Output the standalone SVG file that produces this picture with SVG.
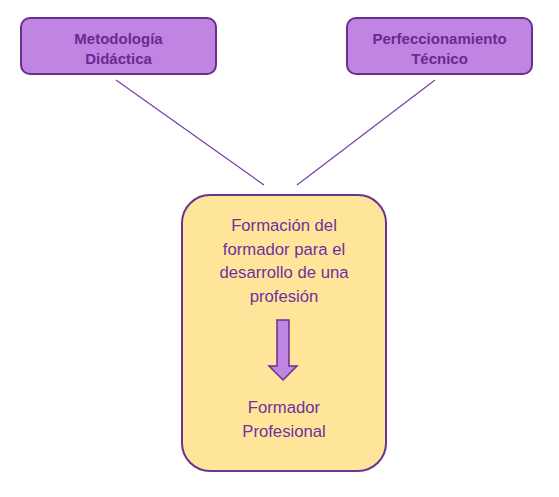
<svg xmlns="http://www.w3.org/2000/svg" width="559" height="497" viewBox="0 0 559 497">
<style>
.top{fill:#C084E2;stroke:#6B2E8E;stroke-width:2}
.tt{font-family:"Liberation Sans",Arial,sans-serif;font-weight:bold;font-size:15px;fill:#6B2A93;text-anchor:middle}
.mt{font-family:"Liberation Sans",Arial,sans-serif;font-size:16.7px;fill:#7030A0;text-anchor:middle}
.ln{stroke:#7A3FA3;stroke-width:1.2;fill:none}
</style>
<rect width="559" height="497" fill="#FFFFFF"/>
<g id="connectors">
<line class="ln" x1="116" y1="80" x2="264" y2="185"/>
<line class="ln" x1="435" y1="80" x2="297" y2="185"/>
</g>
<g id="metodologia">
<rect class="top" x="21" y="18" width="195" height="56" rx="9"/>
<text class="tt" x="118.5" y="43.5">Metodología</text>
<text class="tt" x="118.5" y="63.5">Didáctica</text>
</g>
<g id="perfeccionamiento">
<rect class="top" x="347" y="18" width="185" height="56" rx="9"/>
<text class="tt" x="439.5" y="43.5">Perfeccionamiento</text>
<text class="tt" x="439.5" y="63.5">Técnico</text>
</g>
<g id="formacion">
<rect x="182" y="195" width="204" height="276" rx="28" fill="#FFE599" stroke="#6B3491" stroke-width="2"/>
<text class="mt" x="284" y="231">Formación del</text>
<text class="mt" x="284" y="254.5">formador para el</text>
<text class="mt" x="284" y="278">desarrollo de una</text>
<text class="mt" x="284" y="301.5">profesión</text>
<path d="M277,320 H289 V366 H297 L283,380 L269,366 H277 Z" fill="#C084E2" stroke="#6B2E8E" stroke-width="1.5"/>
<text class="mt" x="284" y="413">Formador</text>
<text class="mt" x="284" y="436.5">Profesional</text>
</g>
</svg>
